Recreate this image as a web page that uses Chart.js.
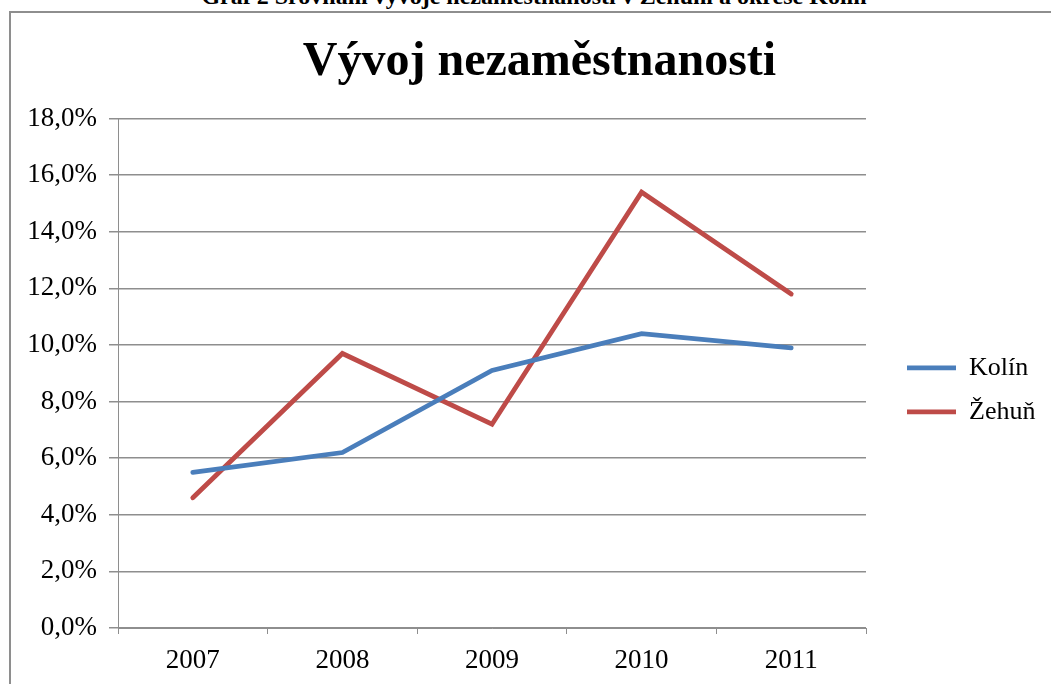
<!DOCTYPE html>
<html>
<head>
<meta charset="utf-8">
<script src="https://cdn.jsdelivr.net/npm/chart.js@4"></script>
<style>
  html, body { margin: 0; padding: 0; background: #fff; overflow: hidden; }
  #wrap { position: relative; width: 1051px; height: 684px; }
  #frame { position: absolute; left: 9px; top: 11px; width: 1100px; height: 700px;
           border: 2px solid #8e8e8e; box-sizing: border-box; }
  #caption { position: absolute; left: 0; width: 1068px; top: -16px; text-align: center;
             font: bold 24px "Liberation Serif", "Times New Roman", serif; line-height: 24px;
             white-space: nowrap; color: #000; }
  #chart { position: absolute; left: 0; top: 0; }
</style>
</head>
<body>
<div id="wrap">
  <div id="caption">Graf 2 Srovnání vývoje nezaměstnanosti v Žehuni a okrese Kolín</div>
  <div id="frame"></div>
  <canvas id="chart" width="1051" height="684"></canvas>
</div>
<script>
let years = ['2007', '2008', '2009', '2010', '2011'];
let kolin = [5.5, 6.2, 9.1, 10.4, 9.9];
let zehun = [4.6, 9.7, 7.2, 15.4, 11.8];
let series_names = ['Kolín', 'Žehuň'];
let color_list = ['#4A7EBB', '#BE4B48'];

let serif = '"Liberation Serif", "Times New Roman", serif';
let gridColor = '#8e8e8e';

// legenda ma pevnou sirku, at sedi plocha grafu
const legendWidth = {
  id: 'legendWidth',
  beforeInit(chart) {
    const orig = chart.legend.fit;
    chart.legend.fit = function () {
      orig.call(this);
      this.width = 162;
    };
  }
};

let my_datasets = [kolin, zehun].map(function (d, i) {
  return {
    label: series_names[i],
    data: d,
    borderColor: color_list[i],
    backgroundColor: color_list[i],
    borderWidth: 4.8,
    borderCapStyle: 'round',
    borderJoinStyle: 'miter',
    pointRadius: 0,
    tension: 0,
    yAxisID: 'y'
  };
});

let myChart = new Chart(document.getElementById('chart').getContext('2d'), {
  type: 'line',
  data: { labels: years, datasets: my_datasets },
  plugins: [legendWidth],
  options: {
    responsive: false,
    animation: false,
    layout: { padding: { top: 0, left: 28, right: 0, bottom: 0 } },
    plugins: {
      title: {
        display: true,
        text: 'Vývoj nezaměstnanosti',
        color: '#000',
        font: { family: serif, size: 48, weight: 'bold' },
        padding: { top: 34, bottom: 27 }
      },
      legend: {
        position: 'right',
        fullSize: false,
        align: 'center',
        title: { display: true, text: '', font: { size: 10 }, padding: { top: 21, bottom: 0 } },
        labels: {
          usePointStyle: true,
          pointStyle: 'line',
          pointStyleWidth: 49,
          padding: 18,
          color: '#000',
          font: { family: serif, size: 26 }
        }
      },
      tooltip: { enabled: false }
    },
    scales: {
      x: {
        offset: true,
        afterFit: function (scale) { scale.height = 56; },
        grid: { offset: true, drawOnChartArea: false, drawTicks: true, tickLength: 6, color: gridColor },
        border: { display: true, color: gridColor, width: 1 },
        ticks: { color: '#000', padding: 11, font: { family: serif, size: 27 } }
      },
      y: {
        min: 0,
        max: 18,
        afterFit: function (scale) { scale.width = 90; },
        grid: { color: gridColor, tickLength: 9, lineWidth: 1.5 },
        border: { display: true, color: gridColor, width: 1 },
        ticks: {
          stepSize: 2,
          color: '#000',
          padding: 12,
          font: { family: serif, size: 27 },
          callback: function (v) { return v.toFixed(1).replace('.', ',') + '%'; }
        }
      },
      // prazdna osa vpravo = mezera mezi grafem a legendou
      gap: {
        position: 'right',
        type: 'linear',
        afterFit: function (scale) { scale.width = 23; },
        grid: { display: false },
        border: { display: false },
        ticks: { display: false }
      }
    }
  }
});
</script>
</body>
</html>
